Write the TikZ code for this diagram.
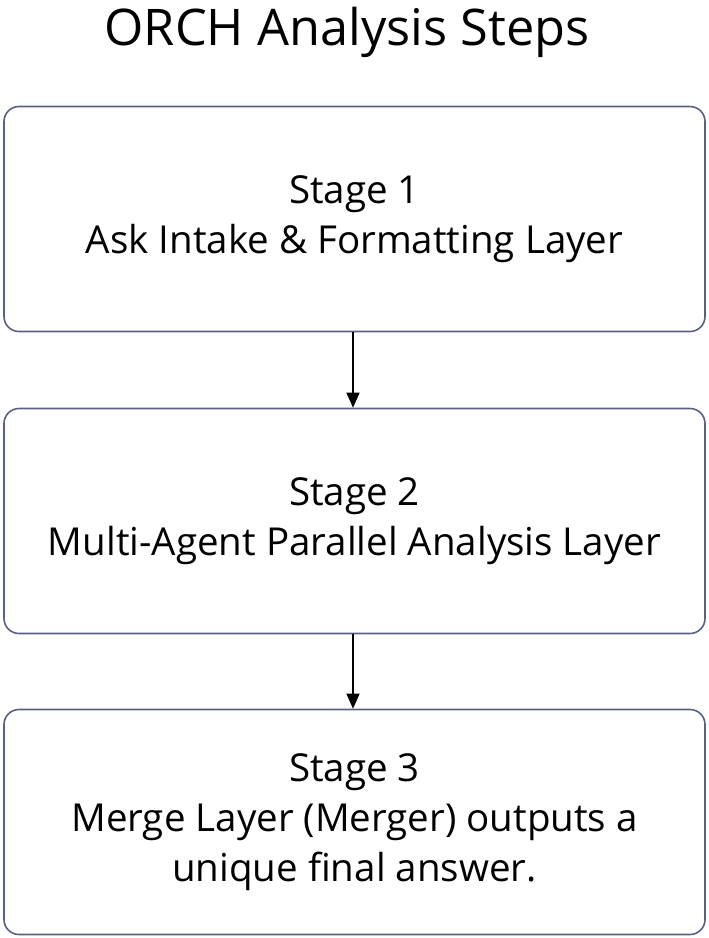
\documentclass[tikz,border=0pt]{standalone}
\usepackage{fontspec}
\setmainfont{Open Sans}
\usetikzlibrary{arrows.meta}
\definecolor{boxline}{HTML}{5A5F85}
\tikzset{
  stagebox/.style={draw=boxline, line width=1.6pt, rounded corners=15pt, minimum width=701pt, minimum height=225pt, inner sep=0pt, align=center, font=\fontsize{38.5}{50}\selectfont},
  flow/.style={draw=black, line width=1.2pt, -{Triangle[length=15pt,width=13pt]}},
}
\begin{document}
\begin{tikzpicture}[x=1pt,y=-1pt]
\useasboundingbox (0,0) rectangle (709,938);
\node[font=\fontsize{50.5}{58}\selectfont] (title) at (347,32) {ORCH Analysis Steps};
\node[stagebox] (s1) at (354.5,219) {Stage 1\\Ask Intake \& Formatting Layer};
\node[stagebox] (s2) at (354.5,521) {Stage 2\\Multi-Agent Parallel Analysis Layer};
\node[stagebox] (s3) at (354.5,822) {Stage 3\\Merge Layer (Merger) outputs a\\unique final answer.};
\draw[flow] (s1.south -| 353,0) -- (s2.north -| 353,0);
\draw[flow] (s2.south -| 353,0) -- (s3.north -| 353,0);
\end{tikzpicture}
\end{document}
